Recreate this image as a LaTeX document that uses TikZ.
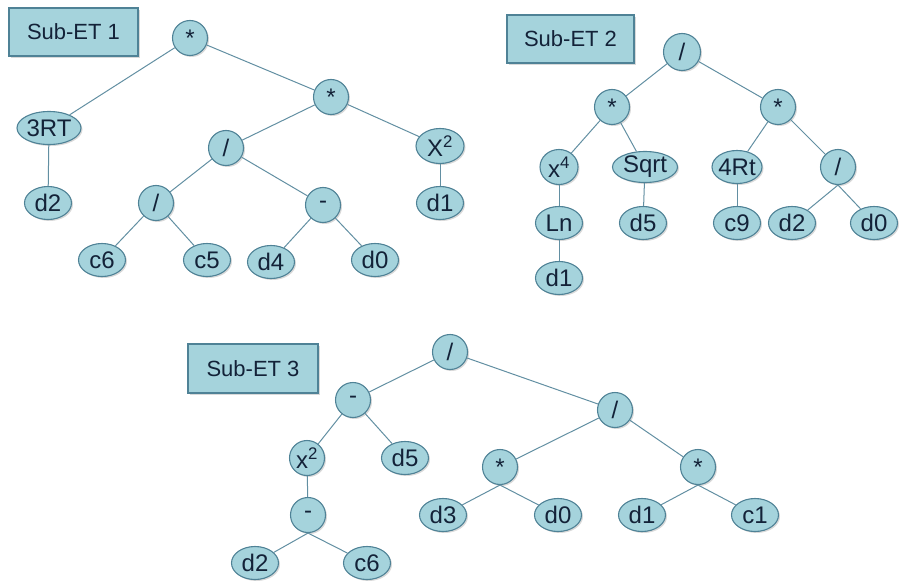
\documentclass[tikz,border=0pt]{standalone}
\usepackage{fontspec}
\setmainfont{Liberation Sans}
\usetikzlibrary{shapes.geometric,shadows}
\definecolor{nodefill}{HTML}{A5D3DC}
\definecolor{nodeborder}{HTML}{4F8296}
\definecolor{edgecol}{HTML}{628FA2}
\definecolor{txt}{HTML}{132238}
\tikzset{
  tn/.style={ellipse, draw=nodeborder, fill=nodefill, line width=1.1pt, inner xsep=-8pt, inner ysep=-8pt,
    text=txt, font=\fontsize{24}{24}\selectfont,
    drop shadow={shadow xshift=1.5pt, shadow yshift=-1.5pt, opacity=0.3, fill=black!50}},
  op/.style={tn, minimum width=35pt, minimum height=35pt},
  leaf/.style={tn, minimum width=47pt, minimum height=33pt},
  lbl/.style={rectangle, draw=nodeborder, fill=nodefill, line width=1.1pt, inner sep=0pt,
    text=txt, font=\fontsize{22}{22}\selectfont, minimum width=129pt, minimum height=48pt,
    drop shadow={shadow xshift=2pt, shadow yshift=-2pt, opacity=0.3, fill=black!50}},
  edge/.style={draw=edgecol, line width=1pt},
}
\begin{document}
\begin{tikzpicture}[x=1pt, y=-1pt]
\useasboundingbox (0,0) rectangle (899,583);
% ---------- Sub-ET 1 ----------
\node[lbl] (L1) at (73.5,32) {Sub-ET 1};
\node[op] (a1) at (190,38) {*};
\node[tn, minimum width=64pt, minimum height=33pt] (a2) at (49,128) {3RT};
\node[op] (a3) at (331,97) {*};
\node[leaf] (a4) at (48,203) {d2};
\node[op] (a5) at (226,148) {/};
\node[tn, minimum width=48pt, minimum height=35pt] (a6) at (440,146) {X\textsuperscript{2}};
\node[op] (a7) at (156,203) {/};
\node[op] (a8) at (323,205) {-};
\node[leaf] (a9) at (440,203) {d1};
\node[leaf] (a10) at (102,260) {c6};
\node[leaf] (a11) at (207,260) {c5};
\node[leaf] (a12) at (271,262) {d4};
\node[leaf] (a13) at (375,260) {d0};
\draw[edge] (a1) -- (a2);
\draw[edge] (a1) -- (a3);
\draw[edge] (a2) -- (a4);
\draw[edge] (a3) -- (a5);
\draw[edge] (a3) -- (a6);
\draw[edge] (a6) -- (a9);
\draw[edge] (a5) -- (a7);
\draw[edge] (a5) -- (a8);
\draw[edge] (a7) -- (a10);
\draw[edge] (a7) -- (a11);
\draw[edge] (a8) -- (a12);
\draw[edge] (a8) -- (a13);
% ---------- Sub-ET 2 ----------
\node[lbl, minimum width=127pt] (L2) at (570.5,39) {Sub-ET 2};
\node[op, minimum width=37pt, minimum height=37pt] (b1) at (682,52) {/};
\node[op] (b2) at (612,107) {*};
\node[op] (b3) at (778,107) {*};
\node[tn, minimum width=38pt, minimum height=35pt] (b4) at (559,167) {x\textsuperscript{4}};
\node[tn, minimum width=65pt, minimum height=31pt] (b5) at (645,167) {Sqrt};
\node[tn, minimum width=50pt, minimum height=33pt] (b6) at (737,167) {4Rt};
\node[op] (b7) at (838,167) {/};
\node[leaf] (b8) at (559,223) {Ln};
\node[leaf] (b9) at (643,223) {d5};
\node[leaf] (b10) at (737,223) {c9};
\node[leaf] (b11) at (792,223) {d2};
\node[leaf] (b12) at (874,223) {d0};
\node[leaf] (b13) at (559,278) {d1};
\draw[edge] (b1) -- (b2);
\draw[edge] (b1) -- (b3);
\draw[edge] (b2) -- (b4);
\draw[edge] (b2) -- (b5);
\draw[edge] (b3) -- (b6);
\draw[edge] (b3) -- (b7);
\draw[edge] (b4) -- (b8);
\draw[edge] (b8) -- (b13);
\draw[edge] (b5) -- (b9);
\draw[edge] (b6) -- (b10);
\draw[edge] (b7.south) -- (b11);
\draw[edge] (b7.south) -- (b12);
% ---------- Sub-ET 3 ----------
\node[lbl, minimum width=130pt, minimum height=49pt] (L3) at (253,368.5) {Sub-ET 3};
\node[op] (c1) at (450,352) {/};
\node[op] (c2) at (353,400) {-};
\node[op] (c3) at (615,410) {/};
\node[op] (c4) at (307,458) {x\textsuperscript{2}};
\node[leaf] (c5) at (405,458) {d5};
\node[op] (c6) at (500,467) {*};
\node[op] (c7) at (698,467) {*};
\node[op] (c8) at (308,515) {-};
\node[leaf] (c9) at (443,515) {d3};
\node[leaf] (c10) at (558,515) {d0};
\node[leaf] (c11) at (642,515) {d1};
\node[leaf] (c12) at (755,515) {c1};
\node[leaf] (c13) at (255,563) {d2};
\node[leaf] (c14) at (367,563) {c6};
\draw[edge] (c1) -- (c2);
\draw[edge] (c1) -- (c3);
\draw[edge] (c2) -- (c4);
\draw[edge] (c2) -- (c5);
\draw[edge] (c4) -- (c8);
\draw[edge] (c8.south) -- (c13);
\draw[edge] (c8.south) -- (c14);
\draw[edge] (c3) -- (c6);
\draw[edge] (c3) -- (c7);
\draw[edge] (c6.south) -- (c9);
\draw[edge] (c6.south) -- (c10);
\draw[edge] (c7.south) -- (c11);
\draw[edge] (c7.south) -- (c12);
\end{tikzpicture}
\end{document}
